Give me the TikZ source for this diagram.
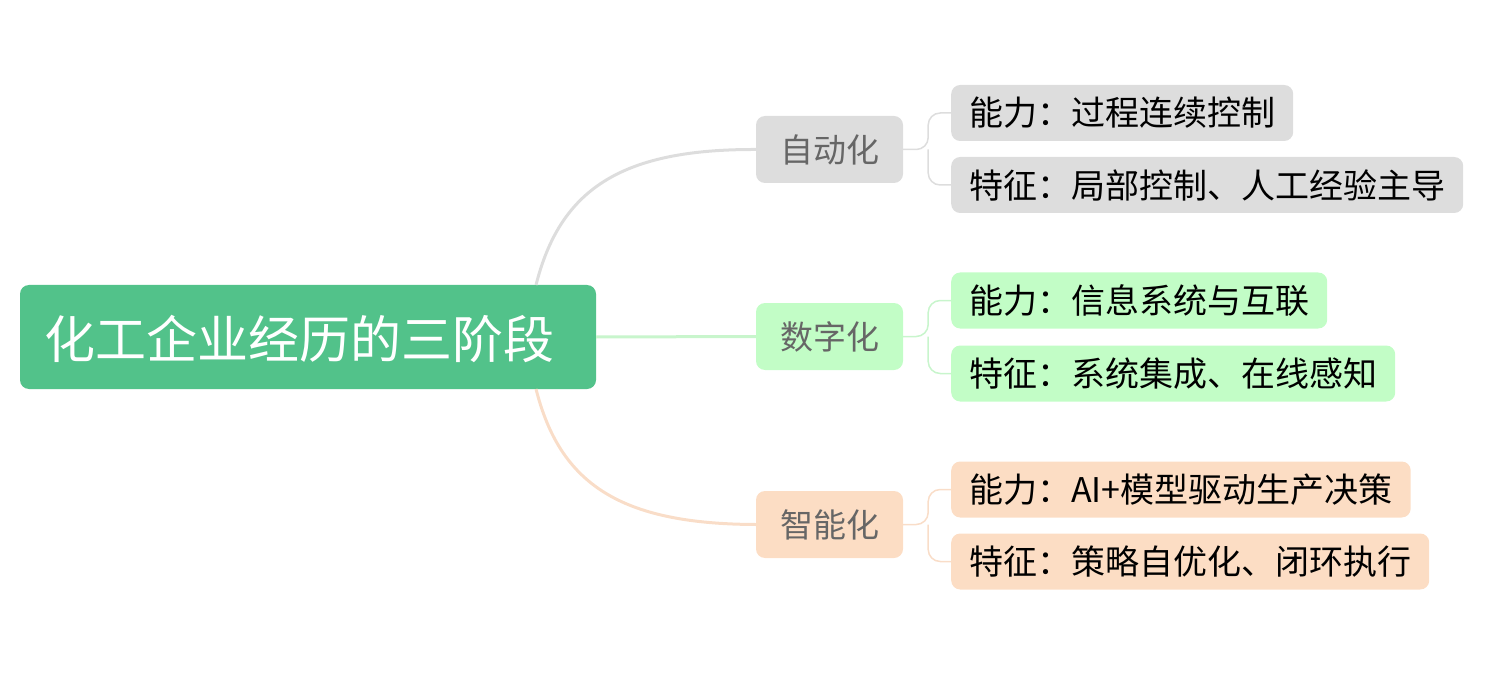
\documentclass[tikz,border=0pt]{standalone}
\usepackage{fontspec}
\setmainfont{Noto Sans CJK SC}
\definecolor{rootc}{HTML}{52C28A}
\definecolor{grayc}{HTML}{DDDDDD}
\definecolor{greenc}{HTML}{C2FDC6}
\definecolor{peachc}{HTML}{FCDDC4}
\definecolor{glc}{HTML}{DDDDDD}
\definecolor{gnl}{HTML}{C8F5CC}
\definecolor{pkl}{HTML}{F9DDC8}
\begin{document}
\begin{tikzpicture}[x=1pt,y=-1pt,
 box/.style={rounded corners=9pt,inner sep=0pt},
 mid/.style={box,minimum width=147pt,minimum height=67pt,font=\fontsize{33}{33}\selectfont,text=black!60},
 leaf/.style={box,anchor=west,minimum height=56pt,inner xsep=18pt,font=\fontsize{34}{34}\selectfont,text=black},
 ln/.style={line width=3pt},
 lf/.style={line width=1.5pt,rounded corners=12pt}]
\useasboundingbox (0,0) rectangle (1504,676);
\node[box,fill=rootc,minimum width=576pt,minimum height=104pt] (root) at (308,337) {};
\node[anchor=west,text=white,font=\fontsize{51}{51}\selectfont,inner sep=0pt] (rtext) at (44,339) {化工企业经历的三阶段};
\node[mid,fill=grayc] (a) at (829.5,149.5) {自动化};
\node[mid,fill=greenc] (b) at (829.5,336.5) {数字化};
\node[mid,fill=peachc] (c) at (829.5,524.5) {智能化};
\node[leaf,fill=grayc] (a1) at (951,113) {能力：过程连续控制};
\node[leaf,fill=grayc] (a2) at (951,185) {特征：局部控制、人工经验主导};
\node[leaf,fill=greenc] (b1) at (951,300.5) {能力：信息系统与互联};
\node[leaf,fill=greenc] (b2) at (951,373.5) {特征：系统集成、在线感知};
\node[leaf,fill=peachc] (c1) at (951,489.5) {能力：AI+模型驱动生产决策};
\node[leaf,fill=peachc] (c2) at (951,561.5) {特征：策略自优化、闭环执行};
\coordinate (rt) at (536,285);
\coordinate (rb) at (536,389);
\draw[ln,glc] (rt) .. controls (560,190) and (620,149) .. (a.west);
\draw[ln,gnl] (root.east) -- (b.west);
\draw[ln,pkl] (rb) .. controls (560,484) and (620,524) .. (c.west);
\foreach \m/\p/\q/\col in {a/a1/a2/glc,b/b1/b2/gnl,c/c1/c2/pkl}{
 \draw[lf,\col] (\m.east) -- ([xshift=25pt]\m.east) |- (\p.west);
 \draw[lf,\col] ([xshift=25pt]\m.east) |- (\q.west);
}
\end{tikzpicture}
\end{document}
